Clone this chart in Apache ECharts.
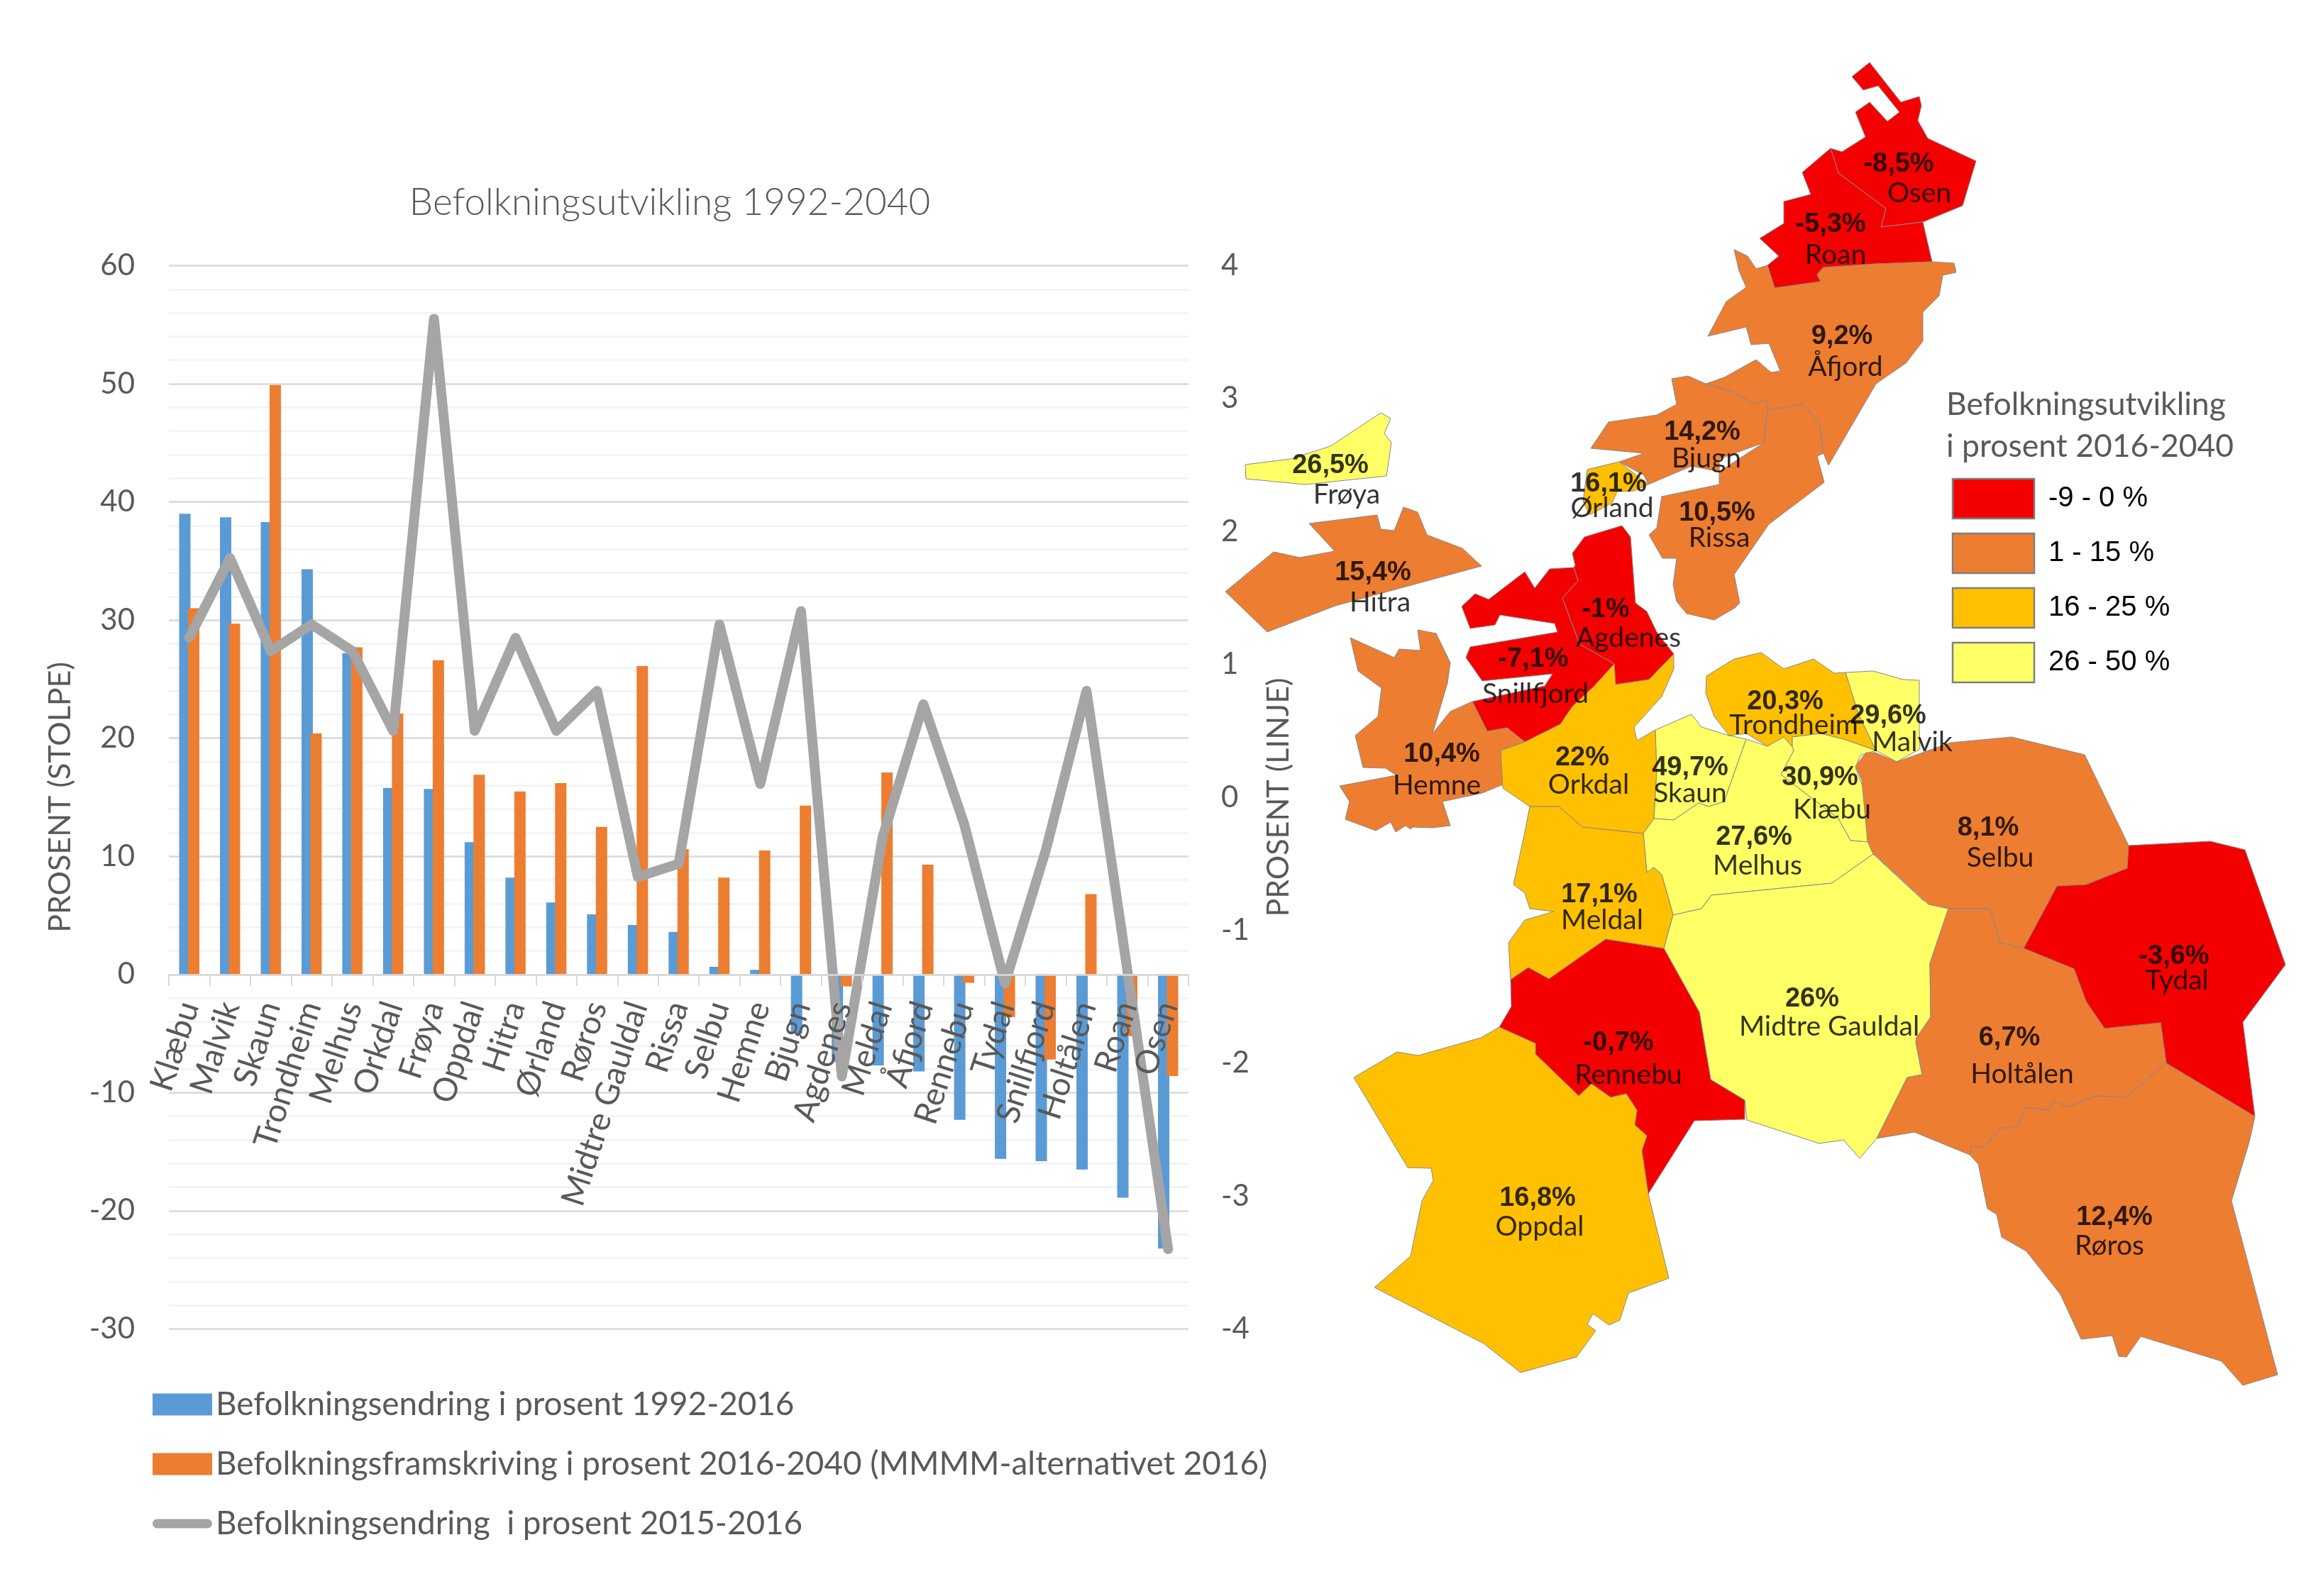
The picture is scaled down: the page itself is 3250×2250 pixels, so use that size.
<!DOCTYPE html>
<html><head><meta charset="utf-8">
<style>html,body{margin:0;padding:0;background:#fff}#c{width:3250px;height:2250px}</style>
<script src="https://cdn.jsdelivr.net/npm/echarts@6/dist/echarts.min.js"></script>
</head><body><div id="c"></div>
<script>
// ---------- chart data ----------
const categories = ['Klæbu','Malvik','Skaun','Trondheim','Melhus','Orkdal','Frøya','Oppdal','Hitra','Ørland','Røros','Midtre Gauldal','Rissa','Selbu','Hemne','Bjugn','Agdenes','Meldal','Åfjord','Rennebu','Tydal','Snillfjord','Holtålen','Roan','Osen'];
const change1992 = [39.0,38.7,38.3,34.3,27.2,15.8,15.7,11.2,8.2,6.1,5.1,4.2,3.6,0.65,0.4,-5.0,-7.4,-7.7,-8.2,-12.3,-15.6,-15.8,-16.5,-18.9,-23.2];
const projection2016 = [31.0,29.7,49.9,20.4,27.7,22.1,26.6,16.9,15.5,16.2,12.5,26.1,10.6,8.2,10.5,14.3,-1.0,17.1,9.3,-0.7,-3.6,-7.2,6.8,-5.2,-8.6];
const change2015 = [1.2,1.8,1.1,1.3,1.1,0.5,3.6,0.5,1.2,0.5,0.8,-0.6,-0.5,1.3,0.1,1.4,-2.1,-0.3,0.7,-0.2,-1.4,-0.4,0.8,-1.3,-3.4];
const seriesNames = ['Befolkningsendring i prosent 1992-2016','Befolkningsframskriving i prosent 2016-2040 (MMMM-alternativet 2016)','Befolkningsendring  i prosent 2015-2016'];

// ---------- map data: municipality, projected change, outline ----------
const mapNames = ['Osen','Roan','Åfjord','Bjugn','Ørland','Rissa','Frøya','Hitra','Agdenes','Snillfjord','Hemne','Orkdal','Skaun','Trondheim','Malvik','Klæbu','Melhus','Meldal','Midtre Gauldal','Rennebu','Selbu','Tydal','Holtålen','Røros','Oppdal'];
const mapValues = [-8.5,-5.3,9.2,14.2,16.1,10.5,26.5,15.4,-1,-7.1,10.4,22,49.7,20.3,29.6,30.9,27.6,17.1,26,-0.7,8.1,-3.6,6.7,12.4,16.8];
const pctAnchors = [[2676,232],[2580,317],[2596,475],[2399,610],[2267,683],[2420,724],[1875,657],[1935,808],[2263,860],[2161,930],[2032,1064],[2230,1069],[2382,1083],[2516,990],[2661,1010],[2565,1097],[2472,1181],[2254,1262],[2554,1409],[2281,1471],[2802,1168],[3064,1349],[2832,1464],[2980,1717],[2167,1690]];
const nameAnchors = [[2705,272],[2587,359],[2601,517],[2405,646],[2272,716],[2423,758],[1898,697],[1945,849],[2295,899],[2164,978],[2025,1107],[2239,1106],[2382,1118],[2528,1022],[2695,1046],[2582,1141],[2477,1220],[2258,1297],[2578,1447],[2295,1515],[2819,1209],[3068,1382],[2850,1514],[2973,1756],[2170,1729]];

const outlineOsen = [[2610,108],[2635,88],[2679,144],[2705,136],[2708,149],[2703,170],[2717,195],[2785,227],[2766,290],[2710,313],[2651,320],[2658,294],[2591,244],[2580,209],[2596,214],[2629,193],[2615,158],[2635,144],[2660,171],[2677,158],[2647,121],[2626,127]];
const outlineRoan = [[2580,209],[2591,244],[2658,294],[2651,320],[2710,313],[2723,369],[2644,372],[2570,377],[2561,387],[2566,397],[2501,406],[2491,374],[2507,361],[2480,336],[2514,315],[2514,284],[2552,274],[2540,243]];
const outlineAfjord = [[2444,352],[2463,361],[2475,379],[2491,374],[2501,406],[2566,397],[2561,387],[2570,377],[2644,372],[2723,369],[2754,371],[2757,384],[2738,388],[2733,417],[2710,440],[2710,481],[2686,512],[2644,541],[2577,656],[2570,639],[2564,596],[2540,570],[2491,578],[2489,563],[2472,570],[2444,553],[2404,541],[2430,532],[2475,507],[2496,525],[2509,523],[2493,484],[2468,486],[2461,461],[2407,474],[2433,425],[2461,405],[2451,382]];
const outlineBjugn = [[2356,534],[2379,530],[2404,541],[2444,553],[2472,570],[2489,563],[2491,578],[2486,624],[2423,647],[2423,665],[2384,657],[2323,683],[2317,670],[2282,651],[2317,639],[2242,632],[2267,595],[2335,585],[2363,570]];
const outlineOrland = [[2237,662],[2282,651],[2323,683],[2303,692],[2279,693],[2272,709],[2240,726],[2231,706]];
const outlineRissa = [[2491,578],[2540,570],[2564,596],[2570,639],[2561,643],[2571,680],[2493,739],[2444,810],[2452,850],[2445,857],[2416,874],[2377,865],[2363,848],[2358,824],[2363,787],[2343,787],[2324,754],[2335,744],[2342,700],[2423,683],[2423,665],[2486,624]];
const outlineFroya = [[1755,655],[1819,647],[1875,629],[1946,582],[1960,590],[1951,611],[1961,624],[1954,671],[1840,683],[1756,675]];
const outlineHitra = [[1845,738],[1941,726],[1946,746],[1965,748],[1978,715],[1998,722],[2011,754],[2061,773],[2088,798],[1882,854],[1786,891],[1727,834],[1795,778],[1832,786],[1881,777]];
const outlineAgdenes = [[2286,741],[2298,757],[2305,850],[2321,862],[2335,891],[2359,922],[2324,958],[2277,965],[2275,936],[2226,908],[2202,843],[2224,819],[2218,800],[2220,797],[2216,780],[2233,757]];
const outlineSnillfjord = [[2060,855],[2079,837],[2098,845],[2149,806],[2163,829],[2184,802],[2218,800],[2224,819],[2202,843],[2226,908],[2275,936],[2247,967],[2216,996],[2199,1021],[2149,1046],[2124,1026],[2096,1031],[2075,989],[2177,967],[2188,950],[2089,960],[2066,927],[2072,912],[2195,891],[2191,879],[2114,867],[2107,881],[2072,886]];
const outlineHemne = [[1903,899],[1965,927],[1972,915],[2002,917],[1998,888],[2024,893],[2044,934],[2040,963],[2019,1034],[2044,1003],[2075,989],[2096,1031],[2124,1026],[2149,1046],[2115,1058],[2118,1106],[2089,1118],[2033,1130],[2044,1164],[2019,1167],[1991,1166],[1988,1169],[1981,1164],[1967,1173],[1960,1159],[1939,1171],[1896,1155],[1902,1130],[1888,1108],[1968,1093],[1953,1083],[1921,1082],[1910,1037],[1942,1010],[1947,970],[1914,946]];
const outlineOrkdal = [[2359,922],[2359,943],[2342,982],[2303,1025],[2307,1044],[2333,1029],[2335,1087],[2331,1154],[2316,1175],[2230,1166],[2197,1137],[2156,1137],[2118,1111],[2115,1058],[2149,1046],[2199,1021],[2216,996],[2247,967],[2275,936],[2277,965],[2324,958]];
const outlineSkaun = [[2333,1029],[2384,1007],[2398,1025],[2437,1037],[2461,1042],[2430,1130],[2408,1137],[2394,1132],[2359,1156],[2331,1154],[2335,1087]];
const outlineTrondheim = [[2405,953],[2444,929],[2482,920],[2514,943],[2556,929],[2585,949],[2601,948],[2619,1006],[2644,1058],[2598,1042],[2566,1034],[2526,1039],[2526,1053],[2514,1039],[2491,1052],[2461,1034],[2437,1037],[2416,1010],[2404,977]];
const outlineMalvik = [[2601,948],[2640,946],[2682,958],[2705,959],[2705,1030],[2706,1056],[2673,1074],[2644,1058],[2619,1006]];
const outlineKlabu = [[2526,1039],[2566,1034],[2598,1042],[2644,1058],[2622,1065],[2615,1082],[2626,1111],[2633,1187],[2608,1185],[2591,1154],[2510,1092],[2528,1058],[2526,1053]];
const outlineMelhus = [[2461,1042],[2491,1052],[2514,1039],[2526,1053],[2528,1058],[2510,1092],[2591,1154],[2608,1185],[2633,1187],[2640,1204],[2582,1245],[2412,1262],[2398,1281],[2358,1290],[2342,1233],[2331,1223],[2321,1230],[2316,1175],[2331,1154],[2359,1156],[2394,1132],[2408,1137],[2430,1130]];
const outlineMeldal = [[2156,1137],[2197,1137],[2230,1166],[2316,1175],[2321,1230],[2331,1223],[2342,1233],[2358,1290],[2345,1337],[2263,1324],[2183,1380],[2154,1364],[2129,1381],[2126,1329],[2149,1297],[2190,1285],[2156,1281],[2149,1259],[2133,1247],[2149,1173]];
const outlineGauldal = [[2358,1290],[2398,1281],[2412,1262],[2582,1245],[2640,1204],[2710,1269],[2746,1281],[2720,1358],[2721,1434],[2701,1463],[2700,1469],[2709,1515],[2688,1519],[2645,1605],[2621,1633],[2598,1607],[2564,1612],[2462,1579],[2459,1551],[2411,1522],[2395,1427],[2345,1337]];
const outlineRennebu = [[2263,1324],[2345,1337],[2395,1427],[2411,1522],[2459,1551],[2459,1578],[2388,1580],[2323,1683],[2314,1622],[2321,1601],[2304,1586],[2307,1565],[2292,1542],[2270,1547],[2243,1528],[2225,1545],[2164,1486],[2164,1471],[2113,1448],[2130,1419],[2129,1381],[2154,1364],[2183,1380]];
const outlineSelbu = [[2615,1080],[2630,1061],[2643,1061],[2673,1074],[2749,1047],[2835,1039],[2938,1064],[3000,1192],[2998,1224],[2940,1247],[2899,1249],[2852,1337],[2818,1329],[2805,1281],[2746,1281],[2718,1275],[2639,1202],[2632,1186],[2624,1100]];
const outlineTydal = [[3000,1192],[3115,1186],[3164,1198],[3221,1360],[3161,1441],[3178,1574],[3053,1499],[3045,1442],[2966,1450],[2940,1412],[2923,1366],[2852,1337],[2899,1249],[2940,1247],[2998,1224]];
const outlineHoltalen = [[2746,1281],[2805,1281],[2818,1329],[2852,1337],[2923,1366],[2940,1412],[2966,1450],[3045,1442],[3053,1499],[2997,1547],[2953,1545],[2917,1560],[2893,1553],[2888,1565],[2855,1561],[2844,1587],[2819,1591],[2795,1618],[2779,1615],[2776,1628],[2698,1596],[2645,1605],[2688,1519],[2709,1515],[2700,1469],[2701,1463],[2721,1434],[2720,1358]];
const outlineRoros = [[3053,1499],[3178,1574],[3170,1610],[3145,1693],[3210,1938],[3161,1953],[3131,1919],[3017,1884],[2997,1913],[2986,1912],[2977,1883],[2933,1888],[2904,1825],[2856,1764],[2821,1744],[2814,1712],[2801,1704],[2788,1641],[2776,1628],[2779,1615],[2795,1618],[2819,1591],[2844,1587],[2855,1561],[2888,1565],[2893,1553],[2917,1560],[2953,1545],[2997,1547]];
const outlineOppdal = [[2113,1448],[2164,1471],[2164,1486],[2225,1545],[2243,1528],[2270,1547],[2292,1542],[2307,1565],[2304,1586],[2321,1601],[2314,1622],[2323,1683],[2352,1802],[2295,1823],[2283,1861],[2268,1868],[2245,1852],[2237,1867],[2249,1876],[2222,1913],[2143,1935],[2091,1894],[1937,1815],[1988,1771],[2004,1693],[2020,1664],[2017,1647],[1984,1646],[1908,1519],[1969,1483],[1999,1488],[2087,1463]];
const mapOutlines = [outlineOsen,outlineRoan,outlineAfjord,outlineBjugn,outlineOrland,outlineRissa,outlineFroya,outlineHitra,outlineAgdenes,outlineSnillfjord,outlineHemne,outlineOrkdal,outlineSkaun,outlineTrondheim,outlineMalvik,outlineKlabu,outlineMelhus,outlineMeldal,outlineGauldal,outlineRennebu,outlineSelbu,outlineTydal,outlineHoltalen,outlineRoros,outlineOppdal];

const classLabels = ['-9 - 0 %','1 - 15 %','16 - 25 %','26 - 50 %'];
const classColors = ['#f50000','#ed7d31','#ffc000','#ffff66'];

// ---------- build ----------
const chart = echarts.init(document.getElementById('c'), null, {renderer:'canvas', width:3250, height:2250, devicePixelRatio:1});
const geoJson = {type:'FeatureCollection', features: mapNames.map((n,i)=>({type:'Feature', properties:{name:n}, geometry:{type:'Polygon', coordinates:[mapOutlines[i].concat([mapOutlines[i][0]])]}}))};
echarts.registerMap('trondelag', geoJson);

const UI = 'Lato', GREY = '#595959';
const SW = {x:2752, y:675, w:115, h:56, gap:21};
chart.setOption({
  animation:false,
  backgroundColor:'#fff',
  textStyle:{fontFamily:UI},
  title:[
    {text:'Befolkningsutvikling 1992-2040', left:944, top:259, textAlign:'center', padding:0, textStyle:{fontFamily:UI, fontWeight:300, fontSize:53, color:GREY}},
    {text:'Befolkningsutvikling\ni prosent 2016-2040', left:2743, top:541, padding:0, textStyle:{fontFamily:UI, fontWeight:400, fontSize:44.5, lineHeight:59, color:GREY}}
  ],
  grid:{left:238, top:374.5, width:1437, height:1499, containLabel:false},
  legend:{orient:'vertical', left:215, top:1957, padding:0, itemWidth:84, itemHeight:31, itemGap:38, selectedMode:false,
    data:[{name:seriesNames[0],icon:'rect'},{name:seriesNames[1],icon:'rect'},
      {name:seriesNames[2],icon:'path://M0,0L0,0M84,31L84,31M6,9H78A6.5,6.5 0 0 1 78,22H6A6.5,6.5 0 0 1 6,9Z'}],
    textStyle:{fontFamily:UI, fontSize:45.8, color:GREY, lineHeight:42}},
  xAxis:{type:'category', data:categories, z:5,
    axisLine:{onZero:true, lineStyle:{color:'#d9d9d9', width:2.5}},
    axisTick:{show:true, length:16, lineStyle:{color:'#d9d9d9', width:2}},
    axisLabel:{interval:0, rotate:72, margin:-460, fontSize:46, color:GREY, fontFamily:UI}},
  yAxis:[
    {type:'value', min:-30, max:60, interval:10, position:'left', name:'PROSENT (STOLPE)', nameLocation:'middle', nameGap:131,
     nameTextStyle:{fontSize:43, color:GREY, fontFamily:UI},
     axisLine:{show:false}, axisTick:{show:false}, axisLabel:{margin:48, fontSize:42, color:GREY, fontFamily:UI},
     splitLine:{show:true, lineStyle:{color:'#d9d9d9', width:2.5}},
     minorTick:{show:false, splitNumber:5}, minorSplitLine:{show:true, lineStyle:{color:'#f2f2f2', width:2.5}}},
    {type:'value', min:-4, max:4, interval:1, position:'right', name:'PROSENT (LINJE)', nameLocation:'middle', nameGap:106, nameRotate:90,
     nameTextStyle:{fontSize:43, color:GREY, fontFamily:UI},
     axisLine:{show:false}, axisTick:{show:false}, axisLabel:{margin:46, fontSize:42, color:GREY, fontFamily:UI}, splitLine:{show:false}}
  ],
  geo:{map:'trondelag', left:0, top:0, width:3250, height:2250, roam:false, silent:true,
    projection:{project:p=>p, unproject:p=>p},
    boundingCoords:[[0,0],[3250,2250]],
    label:{show:false}, emphasis:{disabled:true},
    itemStyle:{borderColor:'#888', borderWidth:1}},
  visualMap:{type:'piecewise', seriesIndex:3, orient:'vertical', inverse:true, left:SW.x, top:SW.y, padding:0,
    itemWidth:SW.w, itemHeight:SW.h, itemGap:SW.gap, itemSymbol:'rect', textGap:20, selectedMode:false, hoverLink:false, align:'left',
    textStyle:{fontFamily:'Liberation Sans', fontSize:40, color:'#000'},
    pieces:[
      {gte:-9, lte:0, label:classLabels[0], color:classColors[0]},
      {gt:0, lt:16, label:classLabels[1], color:classColors[1]},
      {gte:16, lt:26, label:classLabels[2], color:classColors[2]},
      {gte:26, lte:50, label:classLabels[3], color:classColors[3]}
    ]},
  graphic:classLabels.map((_,i)=>({type:'rect', z:100, silent:true, shape:{x:SW.x, y:SW.y+i*(SW.h+SW.gap), width:SW.w, height:SW.h}, style:{fill:null, stroke:'#7f7f7f', lineWidth:2.5}})),
  series:[
    {name:seriesNames[0], type:'bar', data:change1992, xAxisIndex:0, yAxisIndex:0, barWidth:16, barGap:'-22%', itemStyle:{color:'#5b9bd5'}, z:2},
    {name:seriesNames[1], type:'bar', data:projection2016, xAxisIndex:0, yAxisIndex:0, barWidth:16, barGap:'-22%', itemStyle:{color:'#ed7d31'}, z:2},
    {name:seriesNames[2], type:'line', data:change2015, xAxisIndex:0, yAxisIndex:1, symbol:'none', z:3,
      lineStyle:{color:'#a5a5a5', width:14, join:'round', cap:'round'}, itemStyle:{color:'#a5a5a5'}},
    {name:'Kart', type:'map', geoIndex:0, silent:true, data:mapNames.map((n,i)=>({name:n, value:mapValues[i]}))},
    {name:'Prosent', type:'scatter', coordinateSystem:'geo', symbolSize:0, silent:true, z:10,
      data:mapNames.map((n,i)=>({name:String(mapValues[i]).replace('.',',')+'%', value:pctAnchors[i]})),
      label:{show:true, position:'inside', formatter:'{b}', fontFamily:'Liberation Sans', fontWeight:'bold', fontSize:38, color:'#000'}},
    {name:'Kommune', type:'scatter', coordinateSystem:'geo', symbolSize:0, silent:true, z:10,
      data:mapNames.map((n,i)=>({name:n, value:nameAnchors[i]})),
      label:{show:true, position:'inside', formatter:'{b}', fontFamily:UI, fontSize:39, color:'#000'}}
  ]
});
</script></body></html>
